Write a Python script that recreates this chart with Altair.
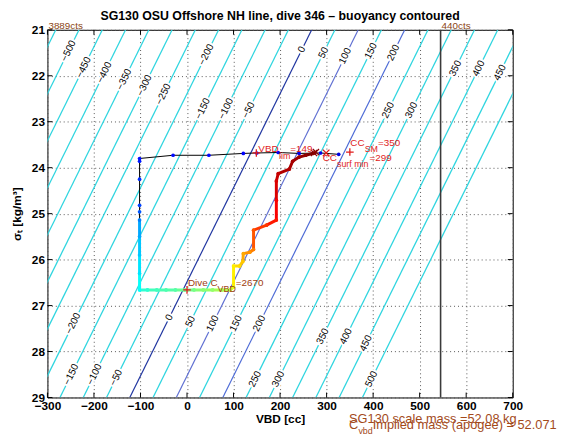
import altair as alt
import pandas as pd

FONT = "Liberation Sans"
W, H = 472, 373

# ---------------- data ----------------
x_ticks = [-300, -200, -100, 0, 100, 200, 300, 400, 500, 600, 700]
y_ticks = [21, 22, 23, 24, 25, 26, 27, 28, 29]

# buoyancy contours: level and its VBD at sigma_t = 21 (top) and 29 (bottom)
contour_levels = [-550, -500, -450, -400, -350, -300, -250, -200, -150, -100, -50,
                  0, 50, 100, 150, 200, 250, 300, 350, 400, 450, 500]
contour_vbd_top = [-282, -232, -182, -132, -82, -32, 18, 68, 118, 168, 218,
                   268, 318, 368, 418, 468, 518, 568, 618, 668, 718, 768]
contour_vbd_bottom = [-673, -623, -573, -523, -473, -423, -373, -323, -273, -223, -173,
                      -123, -73, -23, 27, 77, 127, 177, 227, 277, 327, 377]

# contour labels
label_levels = [-500, -450, -400, -350, -300, -250, -200, -150, -100, -50, 0, 50, 100, 150, 200,
                250, 300, 350, 400, 450,
                -200, -150, -100, -50, 0, 50, 100, 150, 200, 250, 300, 350, 400, 450, 500]
label_vbd = [-254.7, -222.3, -177.7, -135.0, -91.4, -50.7, 41.4, 33.7, 83.7, 132.2, 246.8, 293.4,
             339.9, 395.3, 443.4, 432.2, 482.2, 576.7, 626.7, 672.3,
             -244.7, -248.9, -198.9, -152.4, -38.3, 7.3, 55.3, 105.3, 155.3, 146.2, 196.2,
             291.6, 341.6, 384.3, 396.2]
label_sigma = [21.46, 21.82, 21.93, 22.08, 22.21, 22.40, 21.54, 22.72, 22.72, 22.75, 21.43, 21.50,
               21.57, 21.46, 21.50, 22.75, 22.75, 21.84, 21.84, 21.93,
               27.39, 28.50, 28.50, 28.57, 27.26, 27.35, 27.39, 27.39, 27.39, 28.60, 28.60,
               27.67, 27.67, 27.82, 28.60]

# dive track (in time order)
path_vbd = [326, 287, 241, 196, 150, 121, 47, -30, -102,
            -102, -102, -102, -102, -102, -102, -102, -102, -102,
            -85, -65, -45, -25, -5, 15, 35, 55, 75, 93,
            100, 100, 113, 120, 121, 135, 143, 143, 171, 192, 192, 192, 196, 220, 227, 241, 255, 273]
path_sigma = [23.71, 23.68, 23.69, 23.67, 23.68, 23.69, 23.73, 23.73, 23.80,
              23.86, 24.25, 24.82, 24.96, 25.14, 25.50, 25.90, 26.30, 26.66,
              26.66, 26.66, 26.66, 26.66, 26.66, 26.66, 26.66, 26.66, 26.66, 26.66,
              26.60, 26.14, 26.14, 26.04, 25.87, 25.84, 25.78, 25.36, 25.25, 25.14, 24.71, 24.29,
              24.13, 24.03, 23.86, 23.77, 23.73, 23.68]
path_time = [0.10, 0.105, 0.11, 0.115, 0.12, 0.125, 0.13, 0.135, 0.14,
             0.15, 0.17, 0.19, 0.21, 0.25, 0.29, 0.32, 0.35, 0.38,
             0.42, 0.44, 0.45, 0.46, 0.48, 0.49, 0.51, 0.52, 0.54, 0.55,
             0.60, 0.64, 0.66, 0.68, 0.71, 0.73, 0.75, 0.79, 0.82, 0.85, 0.88, 0.91,
             0.93, 0.95, 0.96, 0.97, 0.98, 1.0]
THICK_FROM = 13

vbd_lim, sig_lim = 149, 23.68
cc_sm, sig_sm = 350, 23.66
cc_surf_min, sig_surf = 299, 23.68
dive_c_vbd, sig_dive = 0, 26.66
cluster_vbd, cluster_sigma = [273, 277], [23.68, 23.66]
rule_vbd = 545

title_text = "SG130 OSU Offshore NH line, dive 346 \u2013 buoyancy contoured"
mass_text = "SG130 scale mass =52.08 kg"
implied_text = "Implied mass (apogee) = 52.071"

# ---------------- scales & axes ----------------
xs = alt.Scale(domain=[-300, 700], nice=False, zero=False)
ys = alt.Scale(domain=[21, 29], reverse=True, nice=False, zero=False)
jet = alt.Scale(domain=[0, 1], interpolate="rgb",
                range=["#00007f", "#0000ff", "#007fff", "#00ffff", "#7fff7f",
                       "#ffff00", "#ff7f00", "#ff0000", "#7f0000"])

axis_common = dict(grid=True, gridDash=[1, 3], gridColor="#555", gridWidth=1, tickSize=0,
                   domain=False, labelFont=FONT, labelFontSize=12, labelFontWeight="bold",
                   labelColor="black", labelPadding=3, labelFlush=False, labelOverlap=False,
                   titleFont=FONT, titleFontSize=12, titleFontWeight="bold", titleColor="black")
AX = alt.Axis(values=x_ticks, title="VBD [cc]", titlePadding=2, **axis_common)
AY = alt.Axis(values=y_ticks, title="\u03c3\u209c [kg/m\u00b3]", titleX=-27, titleY=H / 2,
              titleAngle=270, titleAlign="center", titleBaseline="alphabetic", **axis_common)

def X(f):
    return alt.X(f, type="quantitative", scale=xs, axis=AX)

def Y(f):
    return alt.Y(f, type="quantitative", scale=ys, axis=AY)

contours = pd.DataFrame({"level": contour_levels, "x": contour_vbd_top, "y": 21.0,
                         "x2": contour_vbd_bottom, "y2": 29.0})

cyan_lines = alt.Chart(contours).transform_filter(
    "datum.level != 0 && datum.level != 100 && datum.level != 200"
).mark_rule(color="#2fd5df", strokeWidth=1.3, clip=True).encode(
    x=X("x"), y=Y("y"), x2="x2:Q", y2="y2:Q")

def special(level, color):
    return alt.Chart(contours).transform_filter(f"datum.level == {level}").mark_rule(
        color=color, strokeWidth=1.2, clip=True).encode(x=X("x"), y=Y("y"), x2="x2:Q", y2="y2:Q")

labels = pd.DataFrame({"x": label_vbd, "y": label_sigma,
                       "s": [str(v).replace("-", "\u2212") for v in label_levels]})
label_halo = alt.Chart(labels).mark_text(font=FONT, fontSize=10, angle=296, color="white",
                                         stroke="white", strokeWidth=4).encode(
    x=X("x"), y=Y("y"), text="s:N")
label_text = alt.Chart(labels).mark_text(font=FONT, fontSize=10, angle=296, color="black").encode(
    x=X("x"), y=Y("y"), text="s:N")

vrule = alt.Chart(pd.DataFrame({"x": [rule_vbd]})).mark_rule(color="#3a3a3a", strokeWidth=1.6).encode(x=X("x"))

path = pd.DataFrame({"x": path_vbd, "y": path_sigma, "t": path_time, "i": list(range(len(path_vbd)))})
segs = pd.DataFrame({"x": path_vbd[:-1], "y": path_sigma[:-1], "x2": path_vbd[1:], "y2": path_sigma[1:],
                     "t": path_time[1:], "i": list(range(len(path_vbd) - 1))})

black_line = alt.Chart(path).mark_line(color="black", strokeWidth=1).encode(x=X("x"), y=Y("y"), order="i:Q")
thick = alt.Chart(segs).transform_filter(f"datum.i >= {THICK_FROM}").mark_rule(
    strokeWidth=3, strokeCap="round").encode(
    x=X("x"), y=Y("y"), x2="x2:Q", y2="y2:Q", color=alt.Color("t:Q", scale=jet, legend=None))
dots = alt.Chart(path).mark_circle(size=14, opacity=1).encode(
    x=X("x"), y=Y("y"), color=alt.Color("t:Q", scale=jet, legend=None))

PLUS = "M-1,0L1,0M0,-1L0,1"
CROSS = "M-1,-1L1,1M-1,1L1,-1"

def marker(xv, yv, shape, color, size=60):
    return alt.Chart(pd.DataFrame({"x": xv, "y": yv})).mark_point(
        shape=shape, filled=False, color=color, strokeWidth=1.3, size=size, opacity=1).encode(x=X("x"), y=Y("y"))

RED = "#e01b1b"
BROWN = "#a0400f"
MASS = "#a34a1b"

def txt(xv, yv, s, dx, dy, size, color, align="left", baseline="middle", weight="normal"):
    return alt.Chart(pd.DataFrame({"x": [xv], "y": [yv], "s": [s]})).mark_text(
        align=align, baseline=baseline, dx=dx, dy=dy, fontSize=size, font=FONT,
        color=color, fontWeight=weight).encode(x=X("x"), y=Y("y"), text="s:N")

def ptxt(px, py, s, size, color, align="left", baseline="middle", weight="normal"):
    return alt.Chart(pd.DataFrame({"s": [s]})).mark_text(
        align=align, baseline=baseline, fontSize=size, font=FONT, color=color,
        fontWeight=weight).encode(x=alt.value(px), y=alt.value(py), text="s:N")

ticks_x = pd.DataFrame({"x": x_ticks})
ticks_y = pd.DataFrame({"y": y_ticks})
tick_layers = [
    alt.Chart(ticks_x).mark_rule(color="black").encode(x=X("x"), y=alt.value(H), y2=alt.value(H - 5)),
    alt.Chart(ticks_x).mark_rule(color="black").encode(x=X("x"), y=alt.value(0), y2=alt.value(5)),
    alt.Chart(ticks_y).mark_rule(color="black").encode(y=Y("y"), x=alt.value(0), x2=alt.value(5)),
    alt.Chart(ticks_y).mark_rule(color="black").encode(y=Y("y"), x=alt.value(W), x2=alt.value(W - 5)),
]

layers = [
    cyan_lines,
    special(0, "#1f35a0"), special(100, "#5f6fd2"), special(200, "#4d6bd6"),
    label_halo, label_text,
    vrule,
    black_line, thick, dots,
    marker([vbd_lim], [sig_lim], PLUS, RED),
    marker([dive_c_vbd], [sig_dive], PLUS, RED),
    marker([cc_sm], [sig_sm], PLUS, RED),
    marker([cc_surf_min], [sig_surf], CROSS, RED, 45),
    marker(cluster_vbd, cluster_sigma, CROSS, "#8b0000", 40),
    # annotations
    txt(vbd_lim, sig_lim, "VBD", 2, -4, 10, RED),
    txt(vbd_lim, sig_lim, "lim", 23, 3, 9, RED),
    txt(vbd_lim, sig_lim, "=149", 34.5, -4, 10, RED),
    txt(cc_sm, sig_sm, "CC", 0.5, -9, 10, RED),
    txt(cc_sm, sig_sm, "SM", 15, -3, 9, RED),
    txt(cc_sm, sig_sm, "=350", 28.5, -9, 10, RED),
    txt(cc_surf_min, sig_surf, "CC", -3.5, 5, 10, RED),
    txt(cc_surf_min, sig_surf, "surf min", 11, 11, 9, RED),
    txt(cc_surf_min, sig_surf, "=299", 44, 5, 10, RED),
    txt(dive_c_vbd, sig_dive, "Dive C", 1, -6.5, 10, BROWN),
    txt(dive_c_vbd, sig_dive, "VBD", 31, -1, 9, BROWN),
    txt(dive_c_vbd, sig_dive, "=2670", 49.5, -6.5, 10, BROWN),
    txt(-300, 21, "3889cts", 1, -0.5, 10, "#8b4513", baseline="alphabetic"),
    txt(rule_vbd, 21, "440cts", 1, -0.5, 10, "#8b4513", baseline="alphabetic"),
    ptxt(W / 2, -14, title_text, 12.5, "black", align="center", weight="bold"),
    ptxt(306, 395, mass_text, 13, MASS),
    ptxt(306, 400.5, "C", 13, MASS),
    ptxt(315.5, 407, "vbd", 9, MASS),
    ptxt(330, 400.5, implied_text, 13, MASS),
] + tick_layers

chart = alt.layer(*layers).properties(
    width=W, height=H,
    padding={"left": 40, "top": 19, "right": 50, "bottom": 39},
    autosize=alt.AutoSizeParams(type="none"),
    background="white",
).configure_view(stroke="black", strokeWidth=1)

chart.save("out.html", embed_options={"renderer": "svg", "actions": False})
